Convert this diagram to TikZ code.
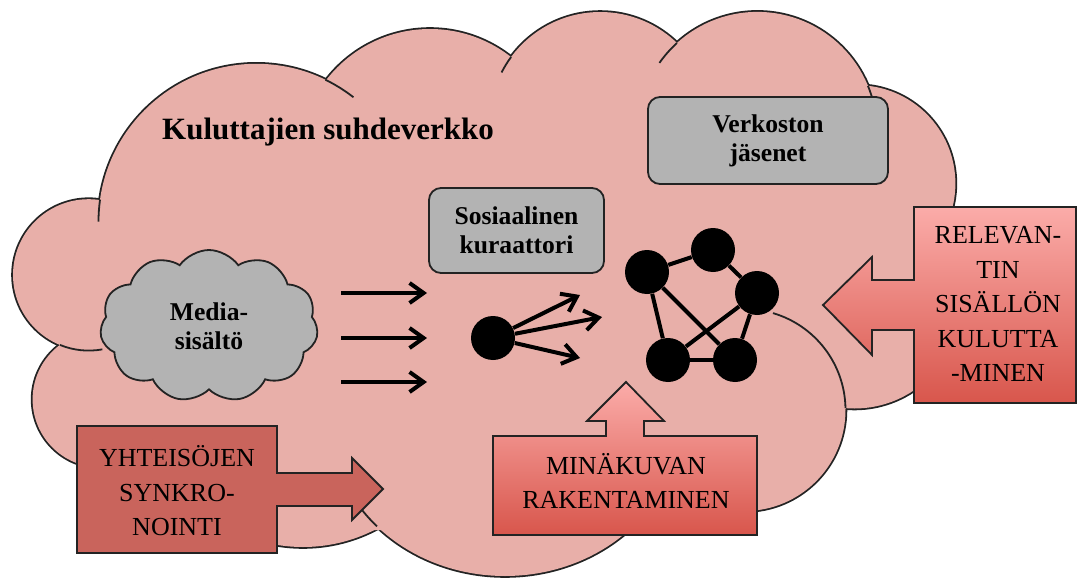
\documentclass[tikz,border=0pt]{standalone}
\usepackage{fontspec}
\setmainfont{Liberation Serif}
\usetikzlibrary{arrows.meta,shapes.symbols}
\definecolor{cloudpink}{RGB}{232,175,169}
\definecolor{boxgray}{RGB}{179,179,179}
\definecolor{syncred}{RGB}{201,100,92}
\definecolor{shadetop}{RGB}{251,172,169}
\definecolor{shadebot}{RGB}{216,86,76}
\definecolor{edgegray}{RGB}{35,35,35}
\begin{document}
\begin{tikzpicture}[x=0.5pt, y=-0.5pt,
	lobe/.style = {draw=edgegray, line width=1.8pt},
	lobetick/.style = {draw=edgegray, line width=0.9pt},
	boldtext/.style = {font=\fontsize{12.8pt}{14.5pt}\selectfont\bfseries, align=center},
	captext/.style = {font=\fontsize{13pt}{17.25pt}\selectfont, align=center},
	graybox/.style = {draw=edgegray, line width=0.9pt, fill=boxgray, rounded corners=6pt, boldtext},
	block/.style = {draw=edgegray, line width=0.9pt},
	netdot/.style = {circle, fill=black, inner sep=0pt, minimum size=22pt},
	flow/.style = {line width=2pt, -{Straight Barb[length=7pt,width=10pt]}},
	netlink/.style = {line width=2pt}]

	\useasboundingbox (0,0) rectangle (1078,578);

	% big cloud: outline first, then the fill over it
	\foreach \cx/\cy/\r in {256.3/221.6/157.8, 430/160/131, 600.2/122.7/110.7, 757.4/131.5/119.6,
		857.1/183.5/98.3, 854.4/302/106.5, 744.5/410/101, 303/389/158, 100.6/399.4/68, 88.7/274.9/75.7}
		\draw[lobe] (\cx,\cy) circle[radius=\r];
	\draw[lobe] (505,420) ellipse[x radius=175, y radius=156];
	\foreach \cx/\cy/\r in {256.3/221.6/157.8, 430/160/131, 600.2/122.7/110.7, 757.4/131.5/119.6,
		857.1/183.5/98.3, 854.4/302/106.5, 744.5/410/101, 303/389/158, 100.6/399.4/68, 88.7/274.9/75.7}
		\fill[cloudpink] (\cx,\cy) circle[radius=\r];
	\fill[cloudpink] (505,420) ellipse[x radius=175, y radius=156];
	\fill[cloudpink] (100,200) -- (326,80) -- (511,57) -- (677,43) -- (868,86) -- (952,209) -- (914,390)
		-- (846,408) -- (758,510) -- (623,535) -- (375,530) -- (277,545) -- (77,463) -- (60,345) -- cycle;
	\foreach \cx/\cy/\r/\a/\b in {256.3/221.6/157.8/188/180, 256.3/221.6/157.8/-64/-52,
		600.2/122.7/110.7/-143.6/-153, 757.4/131.5/119.6/-132.3/-145, 757.4/131.5/119.6/-22.4/-15,
		744.5/410/101/-1.1/-73.6, 88.7/274.9/75.7/112.3/79.6}
		\draw[lobetick] (\cx,\cy) ++(\a:\r) arc[start angle=\a, end angle=\b, radius=\r];
	\draw[lobetick] (505,420) ++(137:175 and 156) arc[start angle=137, end angle=147, x radius=175, y radius=156];

	\node[font=\fontsize{15.5pt}{18pt}\selectfont\bfseries, anchor=base] (title) at (328,139) {Kuluttajien suhdeverkko};

	\node[graybox, minimum width=87.5pt, minimum height=42.5pt] (curator) at (516.5,230.5) {Sosiaalinen\\kuraattori};
	\node[graybox, minimum width=120pt, minimum height=43.5pt] (members) at (768,140.5) {Verkoston\\jäsenet};

	\node[cloud, draw=edgegray, line width=0.9pt, fill=boxgray, cloud puffs=11, cloud puff arc=110,
		aspect=1.45, minimum width=109pt, minimum height=76pt, inner sep=0pt, boldtext] (media) at (209,326) {Media-\\sisältö};

	\coordinate (f1s) at (341,293);
	\coordinate (f1e) at (427,293);
	\coordinate (f2s) at (341,338);
	\coordinate (f2e) at (427,338);
	\coordinate (f3s) at (341,382);
	\coordinate (f3e) at (427,382);
	\draw[flow] (f1s) -- (f1e);
	\draw[flow] (f2s) -- (f2e);
	\draw[flow] (f3s) -- (f3e);

	\node[netdot] (src) at (493,338) {};
	\coordinate (s1) at (580,295);
	\coordinate (s2) at (602,317);
	\coordinate (s3) at (580,358);
	\draw[flow] (src) -- (s1);
	\draw[flow] (src) -- (s2);
	\draw[flow] (src) -- (s3);

	\node[netdot] (n1) at (647,272) {};
	\node[netdot] (n2) at (713,250) {};
	\node[netdot] (n3) at (757,293) {};
	\node[netdot] (n4) at (668,360) {};
	\node[netdot] (n5) at (735,360) {};
	\draw[netlink] (n1) -- (n2);
	\draw[netlink] (n2) -- (n3);
	\draw[netlink] (n1) -- (n4);
	\draw[netlink] (n1) -- (n5);
	\draw[netlink] (n3) -- (n4);
	\draw[netlink] (n3) -- (n5);
	\draw[netlink] (n4) -- (n5);

	\filldraw[block, fill=syncred] (77,426) -- (277,426) -- (277,473) -- (352,473) -- (352,458) -- (383,489)
		-- (352,520) -- (352,506) -- (277,506) -- (277,553) -- (77,553) -- cycle;
	\node[captext] (sync) at (177,491) {YHTEISÖJEN\\SYNKRO-\\NOINTI};

	\path[block, top color=shadetop, bottom color=shadebot] (493,436) -- (606,436) -- (606,421) -- (587,421)
		-- (626,382) -- (664,421) -- (644,421) -- (644,436) -- (757,436) -- (757,535) -- (493,535) -- cycle;
	\node[captext] (selfimg) at (626,481) {MINÄKUVAN\\RAKENTAMINEN};

	\path[block, top color=shadetop, bottom color=shadebot] (914,207) -- (1076,207) -- (1076,403) -- (914,403)
		-- (914,330) -- (872,330) -- (872,355) -- (823,305) -- (872,257) -- (872,280) -- (914,280) -- cycle;
	\node[captext] (relevant) at (998,304) {RELEVAN-\\TIN\\SISÄLLÖN\\KULUTTA\\-MINEN};

\end{tikzpicture}
\end{document}
